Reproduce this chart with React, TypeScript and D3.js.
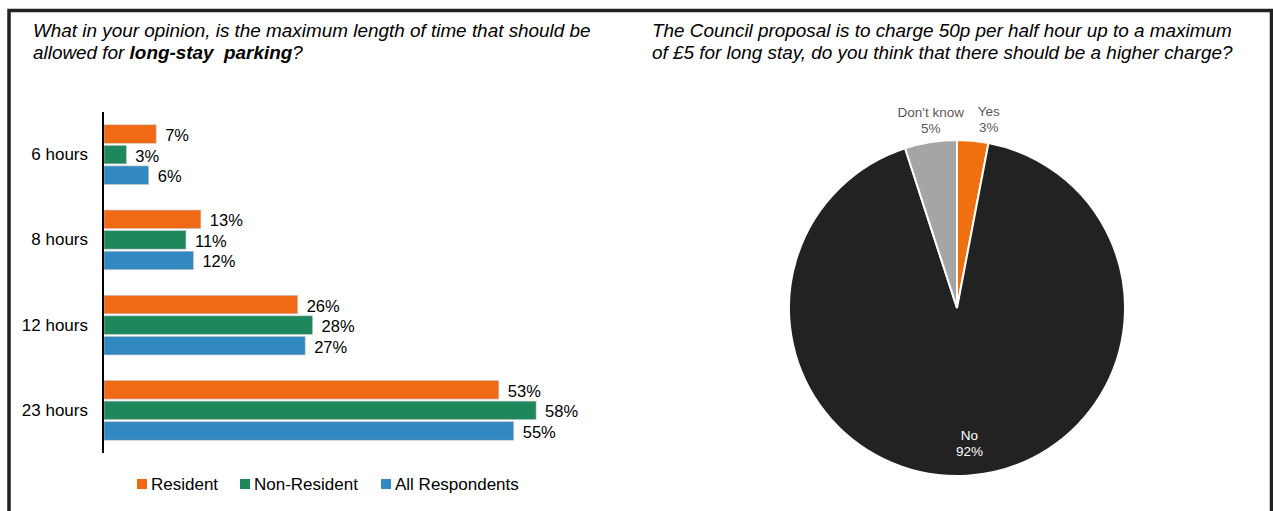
import React from "react";
import * as d3 from "d3";

const categories = ["6 hours", "8 hours", "12 hours", "23 hours"];
const seriesNames = ["Resident", "Non-Resident", "All Respondents"];
const residentValues = [7, 13, 26, 53];
const nonResidentValues = [3, 11, 28, 58];
const allRespondentValues = [6, 12, 27, 55];
const seriesColors = ["#F06A16", "#1E875C", "#3288C0"];

const pieLabels = ["Yes", "No", "Don't know"];
const pieValues = [3, 92, 5];
const pieColors = ["#F07010", "#222222", "#A5A5A5"];

const W = 1273;
const H = 511;
const FONT = "Liberation Sans, Arial, sans-serif";

export default function App() {
  const series = [residentValues, nonResidentValues, allRespondentValues];

  const y0 = d3.scaleBand<string>().domain(categories).range([112, 453]).paddingInner(0.3).paddingOuter(0.15);
  const y1 = d3.scaleBand<number>().domain([0, 1, 2]).range([0, y0.bandwidth()]).paddingInner(0.1);
  const x = d3.scaleLinear().domain([0, 10]).range([104, 178.5]);

  // Pie
  const cx = 957;
  const cy = 308;
  const r = 168;
  const pie = d3.pie<number>().sort(null).value((d) => d)(pieValues);
  const arc = d3.arc<d3.PieArcDatum<number>>().innerRadius(0).outerRadius(r);
  const labelNudge: Record<string, [number, number]> = {
    Yes: [16, -22],
    "Don't know": [0, -22],
  };

  const legendX = [137, 240, 381];
  const titleSize = 18.9;

  return (
    <svg
      width={W}
      height={H}
      style={{ position: "absolute", left: 0, top: 0, display: "block", background: "#fff" }}
      fontFamily={FONT}
    >
      <rect x={0} y={0} width={W} height={H} fill="#fff" />
      <path d="M9,520 L9,10.5 L1271.5,10.5 L1271.5,520" fill="none" stroke="#222" strokeWidth={3.5} />

      {/* Left title */}
      <text x={33} y={37} fontSize={titleSize} fontStyle="italic" fill="#000">
        What in your opinion, is the maximum length of time that should be
      </text>
      <text x={33} y={59} fontSize={titleSize} fontStyle="italic" fill="#000">
        allowed for <tspan fontWeight="bold">{"long-stay\u00a0 parking"}</tspan>?
      </text>

      {/* Right title */}
      <text x={652} y={37} fontSize={titleSize} fontStyle="italic" fill="#000">
        The Council proposal is to charge 50p per half hour up to a maximum
      </text>
      <text x={652} y={59} fontSize={titleSize} fontStyle="italic" fill="#000">
        of £5 for long stay, do you think that there should be a higher charge?
      </text>

      {/* Bars */}
      {categories.map((c, ci) => (
        <g key={c}>
          <text x={88} y={(y0(c) as number) + y0.bandwidth() / 2} fontSize={17} textAnchor="end" dominantBaseline="central" fill="#000">
            {c}
          </text>
          {series.map((vals, si) => {
            const by = (y0(c) as number) + (y1(si) as number);
            return (
              <g key={si}>
                <rect
                  x={x(0)}
                  y={by}
                  width={x(vals[ci]) - x(0)}
                  height={y1.bandwidth()}
                  fill={seriesColors[si]}
                  stroke="#c8c8c8"
                  strokeWidth={0.6}
                />
                <text x={x(vals[ci]) + 9} y={by + y1.bandwidth() / 2 + 1} fontSize={16.5} dominantBaseline="central" fill="#000">
                  {vals[ci]}%
                </text>
              </g>
            );
          })}
        </g>
      ))}
      <line x1={103} x2={103} y1={112} y2={453} stroke="#000" strokeWidth={2} />

      {/* Legend */}
      {seriesNames.map((n, i) => (
        <g key={n}>
          <rect x={legendX[i]} y={479} width={10} height={10} fill={seriesColors[i]} />
          <text x={legendX[i] + 14} y={484} fontSize={17} dominantBaseline="central" fill="#000">
            {n}
          </text>
        </g>
      ))}

      {/* Pie */}
      <g transform={`translate(${cx},${cy})`}>
        {pie.map((p, i) => (
          <path key={i} d={arc(p) as string} fill={pieColors[i]} stroke="#fff" strokeWidth={2} />
        ))}
        {pie.map((p, i) => {
          const label = pieLabels[i];
          const mid = (p.startAngle + p.endAngle) / 2;
          if (p.value > 50) {
            const [lx, ly] = d3.arc<d3.PieArcDatum<number>>().innerRadius(0).outerRadius(r * 1.6).centroid(p);
            return (
              <text key={label} x={lx + 4} y={ly} fontSize={13.5} textAnchor="middle" fill="#fff">
                <tspan x={lx + 4} dy={-2}>{label}</tspan>
                <tspan x={lx + 4} dy={16}>{p.value}%</tspan>
              </text>
            );
          }
          const px = Math.sin(mid) * r;
          const py = -Math.cos(mid) * r;
          const [nx, ny] = labelNudge[label] || [0, -20];
          return (
            <text key={label} x={px + nx} y={py + ny} fontSize={13.5} textAnchor="middle" fill="#595959">
              <tspan x={px + nx} dy={-3}>{label}</tspan>
              <tspan x={px + nx} dy={16}>{p.value}%</tspan>
            </text>
          );
        })}
      </g>
    </svg>
  );
}
